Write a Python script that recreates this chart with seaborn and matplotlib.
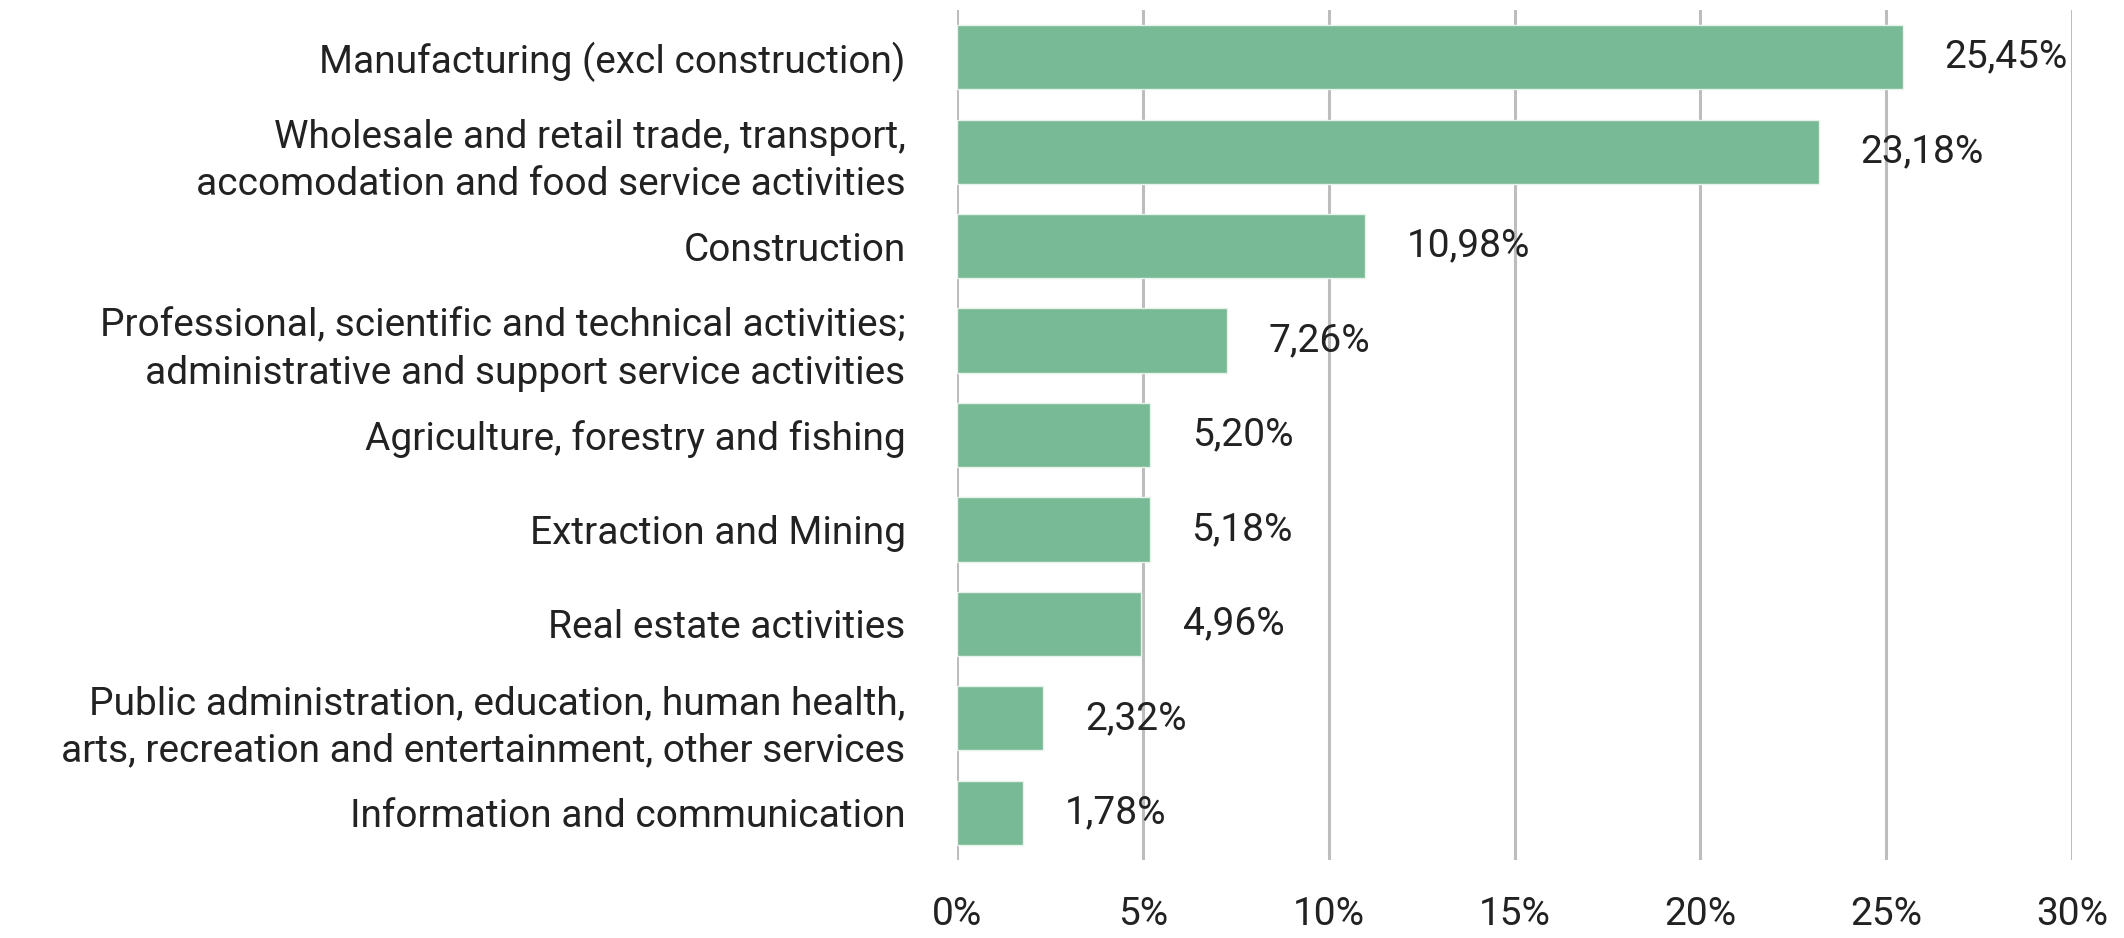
import pandas as pd
import matplotlib.pyplot as plt
import seaborn as sns

# Sector share (%) of the total
sectors = [
    'Manufacturing (excl construction)',
    'Wholesale and retail trade, transport,\naccomodation and food service activities',
    'Construction',
    'Professional, scientific and technical activities;\nadministrative and support service activities',
    'Agriculture, forestry and fishing',
    'Extraction and Mining',
    'Real estate activities',
    'Public administration, education, human health,\narts, recreation and entertainment, other services',
    'Information and communication',
]
shares = [25.45, 23.18, 10.98, 7.26, 5.20, 5.18, 4.96, 2.32, 1.78]
xticks = [0, 5, 10, 15, 20, 25, 30]

df = pd.DataFrame({'sector': sectors, 'share': shares})

sns.set_style('white')
plt.rcParams['font.family'] = ['Roboto', 'DejaVu Sans']

fig = plt.figure(figsize=(21.24, 9.38), dpi=100)
ax = fig.add_axes([957 / 2124, 78 / 938, 1115 / 2124, 850 / 938])

sns.barplot(data=df, x='share', y='sector', orient='h', color='#79BA96',
            saturation=1, width=0.68, edgecolor='#e6f2ea', linewidth=1, ax=ax, zorder=3)

for i, v in enumerate(shares):
    ax.annotate(f'{v:.2f}%'.replace('.', ','), (v, i), xytext=(30, 0),
                textcoords='offset points', ha='left', va='center',
                fontsize=28, color='#222222')

ax.set_xlim(0, 30)
ax.set_xticks(xticks)
ax.set_xticklabels([f'{t}%' for t in xticks])
ax.set_xlabel('')
ax.set_ylabel('')
ax.grid(axis='x', color='#BDBDBD', linewidth=2.2, zorder=0)
ax.grid(axis='y', visible=False)
sns.despine(ax=ax, left=True, bottom=True)
ax.tick_params(axis='x', length=0, pad=26, labelsize=28, labelcolor='#222222')
ax.tick_params(axis='y', length=0, pad=37, labelsize=28, labelcolor='#222222')
for lab in ax.get_yticklabels():
    lab.set_linespacing(1.35)

fig.savefig('out.png', dpi=100)
